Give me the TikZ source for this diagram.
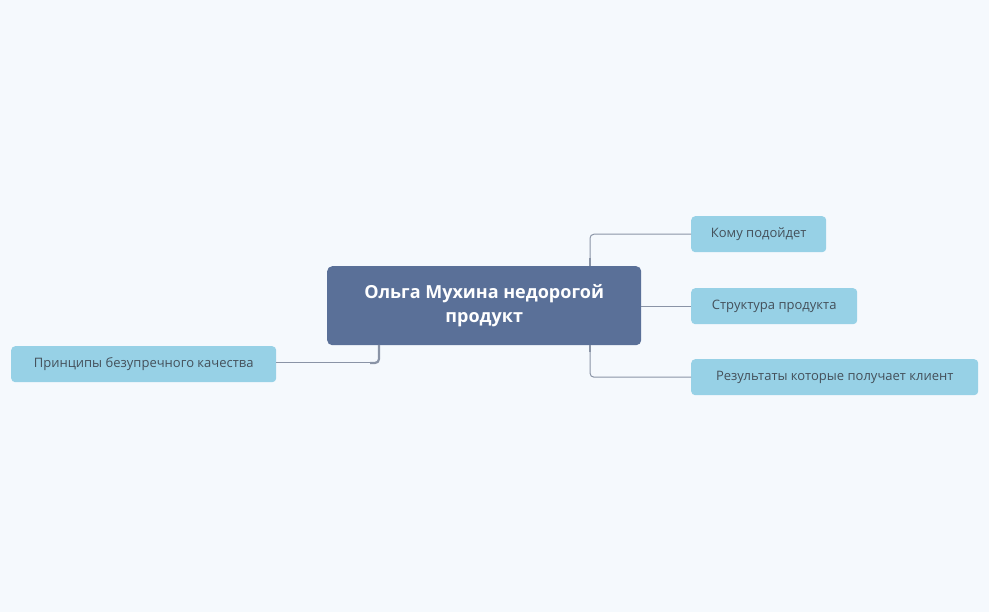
\documentclass[tikz,border=0pt]{standalone}
\usepackage{fontspec}
\setmainfont{Open Sans}
\definecolor{bg}{HTML}{F5F9FD}
\definecolor{central}{HTML}{5A7098}
\definecolor{leaf}{HTML}{97D1E6}
\definecolor{txt}{HTML}{44505A}
\definecolor{ln}{HTML}{8A94A6}
\tikzset{
  leafbox/.style={fill=leaf,rounded corners=4pt,minimum height=36pt,inner xsep=17pt,anchor=north west,text=txt,font=\fontsize{13}{15}\selectfont},
  conn/.style={draw=ln,line width=1pt,rounded corners=4pt},
  thick conn/.style={draw=ln,line width=2.2pt,rounded corners=4pt}
}
\begin{document}
\begin{tikzpicture}[x=1pt,y=-1pt]
\fill[bg] (0,0) rectangle (989,612);
\useasboundingbox (0,0) rectangle (989,612);
\node[fill=central,rounded corners=5pt,minimum width=314pt,minimum height=79pt,anchor=north west,text=white,font=\bfseries\fontsize{18}{24}\selectfont,align=center] (c) at (327,266) {Ольга Мухина недорогой\\продукт};
\node[leafbox,minimum width=135pt] (a) at (691,216) {Кому подойдет};
\node[leafbox,minimum width=166pt] (b) at (691,288) {Структура продукта};
\node[leafbox,minimum width=287pt] (r) at (691,359) {Результаты которые получает клиент};
\node[leafbox,minimum width=265pt] (l) at (11,346) {Принципы безупречного качества};
\coordinate (t1) at (590,266);
\coordinate (t2) at (590,345);
\coordinate (t3) at (379,345);
\draw[thick conn] (t1) -- (590,258);
\draw[conn] (590,258) |- (a.west);
\draw[conn] (c.east |- b.west) -- (b.west);
\draw[thick conn] (t2) -- (590,352);
\draw[conn] (590,352) |- (r.west);
\draw[thick conn] (t3) |- (370,363);
\draw[conn] (371,363) -- (l.east |- 0,363);
\end{tikzpicture}
\end{document}
